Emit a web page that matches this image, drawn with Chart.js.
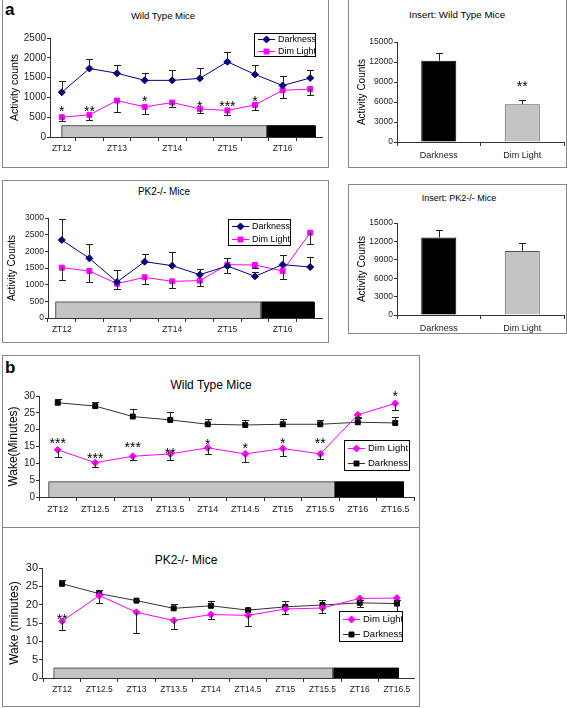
<!DOCTYPE html>
<html lang="es">
<head>
<meta charset="utf-8">
<title>Actividad y vigilia</title>
<script src="https://cdn.jsdelivr.net/npm/chart.js@4.4.1/dist/chart.umd.min.js"></script>
<style>
  body { margin: 0; width: 567px; height: 708px; position: relative; background: #fff; overflow: hidden;
         font-family: 'Liberation Sans', Arial, sans-serif; color: #000; }
  .marco { position: absolute; border: 1px solid #888; box-sizing: border-box; }
  .linea { position: absolute; height: 0; border-top: 1px solid #888; }
  canvas { position: absolute; }
  .letra { position: absolute; font-weight: bold; font-size: 17px; line-height: 17px; }
  .titulo { position: absolute; white-space: nowrap; transform: translate(-50%, -50%); line-height: 1; }
</style>
</head>
<body>
<div class="marco" style="left:2px;top:-1px;width:327px;height:169px"></div>
<div class="marco" style="left:348px;top:-1px;width:219px;height:169px"></div>
<div class="marco" style="left:2px;top:180px;width:327px;height:163px"></div>
<div class="marco" style="left:348px;top:184px;width:219px;height:150px"></div>
<div class="marco" style="left:2px;top:355px;width:418px;height:352px"></div>
<div class="linea" style="left:2px;top:527px;width:418px"></div>

<div class="letra" style="left:5px;top:1px">a</div>
<div class="letra" style="left:5px;top:359px">b</div>

<div class="titulo" style="left:163px;top:16px;font-size:9.5px">Wild Type Mice</div>
<div class="titulo" style="left:457px;top:15px;font-size:9.8px">Insert: Wild Type Mice</div>
<div class="titulo" style="left:164px;top:192px;font-size:10px">PK2-/- Mice</div>
<div class="titulo" style="left:459px;top:198px;font-size:9px">Insert: PK2-/- Mice</div>
<div class="titulo" style="left:211px;top:385px;font-size:12px">Wild Type Mice</div>
<div class="titulo" style="left:186px;top:560px;font-size:12px">PK2-/- Mice</div>

<canvas id="aWt"></canvas>
<canvas id="insWt"></canvas>
<canvas id="aKo"></canvas>
<canvas id="insKo"></canvas>
<canvas id="bWt"></canvas>
<canvas id="bKo"></canvas>

<script>
// ===== Datos =====
const ztTimes = [12, 12.5, 13, 13.5, 14, 14.5, 15, 15.5, 16, 16.5];
const ticksA = ['ZT12', '', 'ZT13', '', 'ZT14', '', 'ZT15', '', 'ZT16', ''];
const ticksB = ['ZT12', 'ZT12.5', 'ZT13', 'ZT13.5', 'ZT14', 'ZT14.5', 'ZT15', 'ZT15.5', 'ZT16', 'ZT16.5'];
const insertCats = ['Darkness', 'Dim Light'];

// a) Wild type: activity counts
const aWtDark = [1130, 1730, 1610, 1430, 1430, 1480, 1900, 1580, 1300, 1490];
const aWtDarkErr = [290, 240, 220, 180, 260, 250, 250, 230, 240, 200];
const aWtDim = [500, 560, 920, 760, 870, 710, 670, 810, 1180, 1210];
const aWtDimErr = [-100, -140, -280, -190, -110, -100, -110, -140, -190, -160];
const aWtStars = ['*', '**', '', '*', '', '*', '***', '*', '', ''];
const aWtStarY = [730, 730, null, 985, null, 860, 860, 985, null, null];
const aWtPeriods = [12, 15.71, 16.59, 285]; // inicio luz tenue, inicio oscuridad, fin, alto

// a) PK2-/-
const aKoDark = [2340, 1790, 1080, 1690, 1570, 1300, 1560, 1250, 1600, 1530];
const aKoDarkErr = [640, 430, 370, 240, 400, 180, 250, 120, 290, 300];
const aKoDim = [1510, 1410, 1030, 1220, 1100, 1120, 1600, 1590, 1410, 2560];
const aKoDimErr = [-380, -320, -150, -210, -200, -160, -260, -100, -240, -330];
const aKoPeriods = [11.89, 15.61, 16.57, 480];

// Inserts (totales)
const insWtTotals = [12200, 5650];
const insWtErr = [1200, 650];
const insWtStars = ['', '**'];
const insWtStarY = [null, 8900];
const insKoTotals = [12650, 10450];
const insKoErr = [1150, 1250];

// b) Wake (minutes)
const bWtDim = [14, 10.2, 12.1, 12.8, 14.6, 12.8, 14.4, 12.8, 24.4, 27.8];
const bWtDimErr = [-2.2, -1.2, -1.1, -1.8, -1.9, -2.5, -2.2, -1.5, -0.8, -2.0];
const bWtDark = [28.0, 27.0, 23.9, 22.9, 21.6, 21.4, 21.6, 21.6, 22.2, 22.0];
const bWtDarkErr = [1.0, 1.3, 2.2, 2.3, 1.5, 1.5, 1.6, 1.2, 1.6, 1.7];
const bWtStars = ['***', '***', '***', '**', '*', '*', '*', '**', '', '*'];
const bWtStarY = [16.9, 12.5, 15.7, 14.0, 16.6, 15.4, 16.9, 16.9, null, 30.8];
const bWtPeriods = [11.88, 15.69, 16.61, 4.5];

const bKoDim = [15.5, 22.5, 17.9, 15.7, 17.3, 17.1, 18.8, 19.1, 21.7, 21.8];
const bKoDimErr = [-2.5, -2.1, -5.6, -2.2, -1.2, -2.8, -1.3, -1.4, -0.4, -0.4];
const bKoDark = [25.7, 23.0, 21.1, 19.0, 19.7, 18.5, 19.4, 19.9, 20.5, 20.3];
const bKoDarkErr = [0.9, 0.9, 0.3, 1.2, 1.2, 0.4, 1.5, 1.3, -1.0, -1.9];
const bKoStars = ['**', '', '', '', '', '', '', '', '', ''];
const bKoStarY = [16.8, null, null, null, null, null, null, null, null, null];
const bKoPeriods = [11.89, 15.64, 16.52, 2.7];

// ===== Estilo =====
const FAM = "'Liberation Sans', Arial, sans-serif";
const FAM_N = "'Liberation Sans Narrow', 'Liberation Sans', Arial, sans-serif";
const NAVY = '#000080';
const MAGENTA = '#ff00ff';
const GRIS = '#c4c4c4';

Chart.defaults.animation = false;
Chart.defaults.responsive = false;
Chart.defaults.devicePixelRatio = 1;
Chart.defaults.font.family = FAM;

// Coloca el canvas y calcula el relleno para que el área del gráfico caiga donde queremos
function colocar(id, caja, area) {
  const c = document.getElementById(id);
  const [l, t, w, h] = caja;
  c.width = w; c.height = h;
  Object.assign(c.style, { left: l + 'px', top: t + 'px', width: w + 'px', height: h + 'px' });
  return {
    ctx: c.getContext('2d'),
    padding: { left: 0, top: area[1] - t, right: l + w - area[2], bottom: 0 },
    anchoY: area[0] - l,
    altoX: t + h - area[3]
  };
}

// Barras de error de un solo lado
const barrasError = {
  id: 'barrasError',
  afterDatasetsDraw(chart) {
    const { ctx, scales: { y } } = chart;
    chart.data.datasets.forEach((ds, i) => {
      if (!ds.errores) return;
      const meta = chart.getDatasetMeta(i);
      ctx.save();
      ctx.strokeStyle = '#222';
      ctx.lineWidth = 1;
      meta.data.forEach((el, j) => {
        const e = ds.errores[j];
        if (!e) return;
        const d = ds.data[j];
        const v = typeof d === 'object' ? d.y : d;
        const x = Math.round(el.x) + 0.5;
        const y1 = Math.round(y.getPixelForValue(v + e)) + 0.5;
        ctx.beginPath();
        ctx.moveTo(x, el.y);
        ctx.lineTo(x, y1);
        ctx.moveTo(x - 3.5, y1);
        ctx.lineTo(x + 3.5, y1);
        ctx.stroke();
      });
      ctx.restore();
    });
  }
};

// Asteriscos de significancia
const asteriscos = {
  id: 'asteriscos',
  afterDatasetsDraw(chart) {
    const { ctx, scales: { y } } = chart;
    chart.data.datasets.forEach((ds, i) => {
      if (!ds.estrellas) return;
      const meta = chart.getDatasetMeta(i);
      ctx.save();
      ctx.font = `14px ${FAM}`;
      ctx.fillStyle = '#000';
      ctx.textAlign = 'center';
      ctx.textBaseline = 'alphabetic';
      ds.estrellas.forEach((s, j) => {
        if (!s) return;
        ctx.fillText(s, meta.data[j].x, y.getPixelForValue(ds.estrellasY[j]) + 8);
      });
      ctx.restore();
    });
  }
};

// Leyenda con recuadro, al estilo de Excel
function leyenda(r, tam) {
  return {
    id: 'leyenda',
    afterDraw(chart) {
      const ctx = chart.ctx;
      const [x0, y0, x1, y1] = r;
      const items = chart.data.datasets.filter(d => d.label);
      ctx.save();
      ctx.fillStyle = '#fff';
      ctx.fillRect(x0, y0, x1 - x0, y1 - y0);
      ctx.strokeStyle = '#000';
      ctx.lineWidth = 1;
      ctx.strokeRect(x0 + 0.5, y0 + 0.5, x1 - x0 - 1, y1 - y0 - 1);
      items.forEach((d, k) => {
        const cy = Math.round(y0 + (y1 - y0) * (k + 0.5) / items.length) + 0.5;
        ctx.strokeStyle = d.borderColor;
        ctx.beginPath();
        ctx.moveTo(x0 + 4, cy);
        ctx.lineTo(x0 + 21, cy);
        ctx.stroke();
        ctx.fillStyle = d.pointBackgroundColor;
        ctx.strokeStyle = d.pointBorderColor;
        Chart.helpers.drawPoint(ctx, { pointStyle: d.pointStyle, radius: d.pointRadius, rotation: 0, borderWidth: 1 }, x0 + 12.5, cy);
        ctx.fillStyle = '#000';
        ctx.font = `${tam}px ${FAM}`;
        ctx.textAlign = 'left';
        ctx.textBaseline = 'middle';
        ctx.fillText(d.label, x0 + 24, cy);
      });
      ctx.restore();
    }
  };
}

function serie(etiqueta, valores, errores, linea, punto, estilo, radio, estrellas, estrellasY) {
  return {
    label: etiqueta,
    data: ztTimes.map((t, i) => ({ x: t, y: valores[i] })),
    errores, estrellas, estrellasY,
    borderColor: linea, borderWidth: 1,
    pointStyle: estilo, pointRadius: radio, pointBorderWidth: 1,
    pointBackgroundColor: punto, pointBorderColor: punto,
    fill: false, tension: 0, order: 1
  };
}

// Franja de luz tenue (gris) u oscuridad (negra) sobre el eje
function franja(desde, hasta, alto, relleno) {
  return {
    data: [{ x: desde, y: 0 }, { x: desde, y: alto }, { x: hasta, y: alto }, { x: hasta, y: 0 }],
    borderColor: relleno === '#000' ? '#000' : '#555', borderWidth: 1,
    backgroundColor: relleno, fill: 'origin', pointRadius: 0, tension: 0, order: 5
  };
}

function ejeY(g, max, paso, tam, fam, titulo, tamT, padT) {
  return {
    min: 0, max,
    ticks: { stepSize: paso, color: '#222', font: { size: tam, family: fam }, padding: 1,
             callback: v => String(v) },
    grid: { drawOnChartArea: false, tickLength: 3, color: '#333' },
    border: { color: '#333' },
    title: { display: true, text: titulo, color: '#000', font: { size: tamT, family: FAM }, padding: { top: padT, bottom: 0 } },
    afterFit: s => { s.width = g.anchoY; }
  };
}

function ejeX(g, min, max, etiquetas, tam) {
  return {
    type: 'linear', min, max,
    afterBuildTicks: s => { s.ticks = ztTimes.map(v => ({ value: v })); },
    ticks: { autoSkip: false, maxRotation: 0, color: '#222', font: { size: tam }, padding: 3,
             callback: (v, i) => etiquetas[i] },
    grid: { offset: true, drawOnChartArea: false, tickLength: 4, color: '#333' },
    border: { color: '#333' },
    afterFit: s => { s.height = g.altoX; }
  };
}

function grafLinea(id, caja, area, cfg) {
  const g = colocar(id, caja, area);
  const ley = cfg.leyenda.map((v, k) => v - (k % 2 ? caja[1] : caja[0]));
  return new Chart(g.ctx, {
    type: 'line',
    data: { datasets: cfg.datasets },
    options: {
      layout: { padding: g.padding },
      scales: {
        x: ejeX(g, cfg.xMin, cfg.xMax, cfg.ticksX, cfg.fx),
        y: ejeY(g, cfg.yMax, cfg.yPaso, cfg.fy, cfg.famY || FAM, cfg.titulo, cfg.ft, cfg.tituloX - caja[0] - 0.6 * cfg.ft)
      },
      plugins: { legend: { display: false }, tooltip: { enabled: false } }
    },
    plugins: [barrasError, asteriscos, leyenda(ley, cfg.fl)]
  });
}

function grafInsert(id, caja, area, totales, errores, estrellas, estrellasY) {
  const g = colocar(id, caja, area);
  return new Chart(g.ctx, {
    type: 'bar',
    data: {
      labels: insertCats,
      datasets: [{
        data: totales, errores, estrellas, estrellasY,
        backgroundColor: ['#000', GRIS], borderColor: ['#000', '#555'], borderWidth: 1,
        barPercentage: 0.42, categoryPercentage: 1
      }]
    },
    options: {
      layout: { padding: g.padding },
      scales: {
        x: {
          ticks: { color: '#222', font: { size: 9, family: FAM_N }, padding: 4 },
          grid: { offset: true, drawOnChartArea: false, tickLength: 4, color: '#333' },
          border: { color: '#333' },
          afterFit: s => { s.height = g.altoX; }
        },
        y: ejeY(g, 15000, 3000, 8.5, FAM_N, 'Activity Counts', 10, 362 - caja[0] - 6)
      },
      plugins: { legend: { display: false }, tooltip: { enabled: false } }
    },
    plugins: [barrasError, asteriscos]
  });
}

// ===== Panel a =====
grafLinea('aWt', [3, 0, 324, 167], [50, 38, 326, 137], {
  xMin: 11.786, xMax: 16.714, ticksX: ticksA, fx: 8.5,
  yMax: 2500, yPaso: 500, fy: 10, titulo: 'Activity counts', ft: 10.5, tituloX: 15,
  leyenda: [254, 33, 316, 57], fl: 9,
  datasets: [
    serie('Darkness', aWtDark, aWtDarkErr, NAVY, NAVY, 'rectRot', 3.5),
    serie('Dim Light', aWtDim, aWtDimErr, MAGENTA, MAGENTA, 'rect', 3.5, aWtStars, aWtStarY),
    franja(aWtPeriods[0], aWtPeriods[1], aWtPeriods[3], GRIS),
    franja(aWtPeriods[1], aWtPeriods[2], aWtPeriods[3], '#000')
  ]
});

grafInsert('insWt', [349, 0, 217, 167], [397, 42, 564, 142], insWtTotals, insWtErr, insWtStars, insWtStarY);

grafLinea('aKo', [3, 181, 324, 161], [48, 218, 326, 318], {
  xMin: 11.75, xMax: 16.714, ticksX: ticksA, fx: 8.5,
  yMax: 3000, yPaso: 500, fy: 8.5, titulo: 'Activity Counts', ft: 10, tituloX: 12,
  leyenda: [228, 219, 291, 246], fl: 9,
  datasets: [
    serie('Darkness', aKoDark, aKoDarkErr, NAVY, NAVY, 'rectRot', 3.5),
    serie('Dim Light', aKoDim, aKoDimErr, MAGENTA, MAGENTA, 'rect', 3.5),
    franja(aKoPeriods[0], aKoPeriods[1], aKoPeriods[3], GRIS),
    franja(aKoPeriods[1], aKoPeriods[2], aKoPeriods[3], '#000')
  ]
});

grafInsert('insKo', [349, 185, 217, 148], [397, 223, 564, 315], insKoTotals, insKoErr);

// ===== Panel b =====
grafLinea('bWt', [3, 356, 416, 171], [39, 396, 418, 497], {
  xMin: 11.75, xMax: 16.75, ticksX: ticksB, fx: 9,
  yMax: 30, yPaso: 5, fy: 10, famY: FAM_N, titulo: 'Wake(Minutes)', ft: 12, tituloX: 14,
  leyenda: [344, 440, 410, 471], fl: 9.5,
  datasets: [
    serie('Dim Light', bWtDim, bWtDimErr, MAGENTA, MAGENTA, 'rectRot', 3.5, bWtStars, bWtStarY),
    serie('Darkness', bWtDark, bWtDarkErr, '#333', '#000', 'rect', 3.5),
    franja(bWtPeriods[0], bWtPeriods[1], bWtPeriods[3], GRIS),
    franja(bWtPeriods[1], bWtPeriods[2], bWtPeriods[3], '#000')
  ]
});

grafLinea('bKo', [3, 528, 416, 177], [42, 568, 418, 678], {
  xMin: 11.73, xMax: 16.73, ticksX: ticksB, fx: 8.5,
  yMax: 30, yPaso: 5, fy: 11, titulo: 'Wake (minutes)', ft: 12, tituloX: 14.5,
  leyenda: [339, 611, 403, 642], fl: 9.5,
  datasets: [
    serie('Dim Light', bKoDim, bKoDimErr, MAGENTA, MAGENTA, 'rectRot', 3.5, bKoStars, bKoStarY),
    serie('Darkness', bKoDark, bKoDarkErr, '#333', '#000', 'rect', 3.5),
    franja(bKoPeriods[0], bKoPeriods[1], bKoPeriods[3], GRIS),
    franja(bKoPeriods[1], bKoPeriods[2], bKoPeriods[3], '#000')
  ]
});
</script>
</body>
</html>
